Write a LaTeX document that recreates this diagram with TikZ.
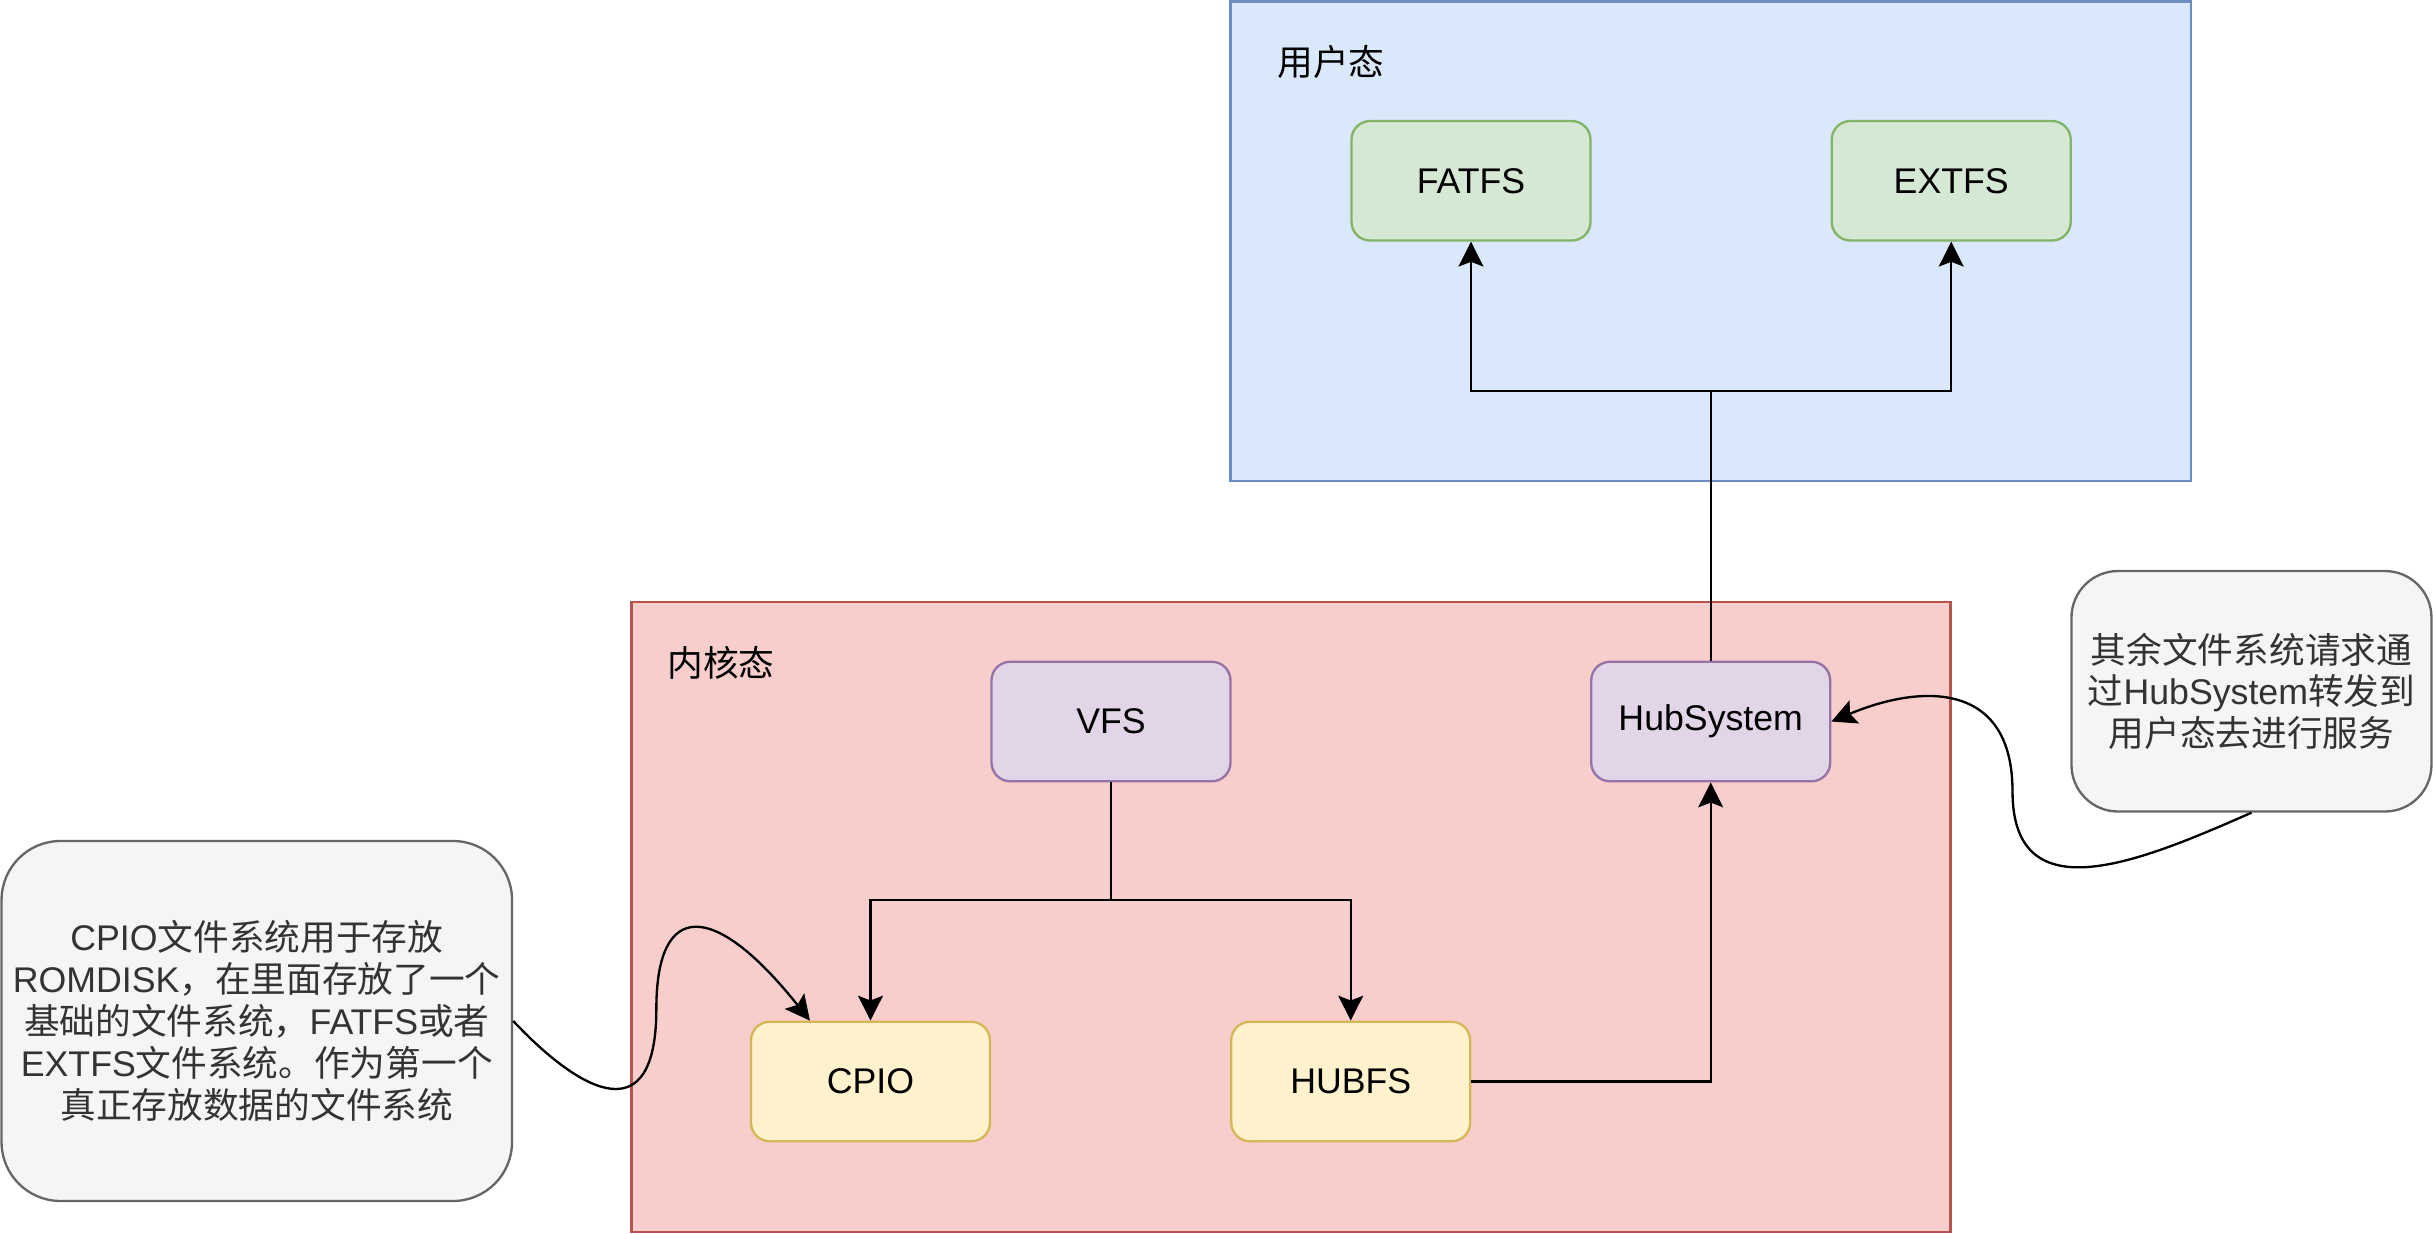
\documentclass[tikz,border=0pt]{standalone}
\usepackage{fontspec}
\setmainfont{Liberation Sans}
\newfontfamily\cjk{Noto Sans CJK SC}
\newcommand\zh[1]{{\cjk #1}}
\usetikzlibrary{arrows.meta}
\definecolor{bluefill}{HTML}{DAE8FC}
\definecolor{bluedraw}{HTML}{6C8EBF}
\definecolor{redfill}{HTML}{F8CECC}
\definecolor{reddraw}{HTML}{B85450}
\definecolor{greenfill}{HTML}{D5E8D4}
\definecolor{greendraw}{HTML}{82B366}
\definecolor{purplefill}{HTML}{E1D5E7}
\definecolor{purpledraw}{HTML}{9673A6}
\definecolor{yellowfill}{HTML}{FFF2CC}
\definecolor{yellowdraw}{HTML}{D6B656}
\definecolor{grayfill}{HTML}{F5F5F5}
\definecolor{graydraw}{HTML}{666666}
\definecolor{graytext}{HTML}{333333}
\begin{document}
\begin{tikzpicture}[x=1pt,y=-1pt,
  every node/.style={font=\fontsize{23}{27}\selectfont, inner sep=0pt},
  region/.style={draw, line width=1.5pt, rectangle},
  fsbox/.style={draw, line width=1.5pt, rounded corners=12pt, minimum width=154pt, minimum height=77pt, align=center},
  greenbox/.style={fsbox, fill=greenfill, draw=greendraw},
  purplebox/.style={fsbox, fill=purplefill, draw=purpledraw},
  yellowbox/.style={fsbox, fill=yellowfill, draw=yellowdraw},
  notebox/.style={draw=graydraw, fill=grayfill, text=graytext, line width=1.5pt, align=center},
  arr/.style={draw, line width=1.5pt, -{Stealth[length=16pt, width=16pt, inset=3pt]}},
  plain/.style={draw, line width=1.5pt}
]
\useasboundingbox (0,0) rectangle (1568,795);

% containers
\node[region, fill=bluefill, draw=bluedraw, minimum width=619pt, minimum height=309pt] (user) at (1102.5,155.5) {};
\node[region, fill=redfill, draw=reddraw, minimum width=850pt, minimum height=406pt] (kernel) at (832,591) {};
\node[anchor=west] (userlbl) at (823,40) {\zh{用户态}};
\node[anchor=west] (kernlbl) at (430,427) {\zh{内核态}};

% boxes
\node[greenbox] (fat) at (948,116.5) {FATFS};
\node[greenbox] (ext) at (1257.5,116.5) {EXTFS};
\node[purplebox] (vfs) at (716,465) {VFS};
\node[purplebox] (hub) at (1102.5,465) {HubSystem};
\node[yellowbox] (cpio) at (561,697) {CPIO};
\node[yellowbox] (hubfs) at (870.5,697) {HUBFS};

% notes
\node[notebox, rounded corners=38pt, minimum width=329pt, minimum height=232pt] (noteL) at (165.5,658)
  {CPIO\zh{文件系统用于存放}\\ROMDISK\zh{，在里面存放了一个}\\\zh{基础的文件系统，}FATFS\zh{或者}\\EXTFS\zh{文件系统。作为第一个}\\\zh{真正存放数据的文件系统}};
\node[notebox, rounded corners=30pt, minimum width=232pt, minimum height=155pt] (noteR) at (1451,445.5)
  {\zh{其余文件系统请求通}\\\zh{过}HubSystem\zh{转发到}\\\zh{用户态去进行服务}};

% connectors
\coordinate (j1) at (1102.5,252);
\coordinate (j2) at (716,580);
\draw[plain] (hub.north) -- (j1);
\draw[arr] (j1) -| (fat.south);
\draw[arr] (j1) -| (ext.south);
\draw[plain] (vfs.south) -- (j2);
\draw[arr] (j2) -| (cpio.north);
\draw[arr] (j2) -| (hubfs.north);
\draw[arr] (hubfs.east) -| (hub.south);

\draw[arr] (noteL.east) .. controls (375,705) and (423,730) .. (423,650)
  .. controls (423,580) and (460,580) .. ([xshift=-39pt]cpio.north);
\draw[arr] (noteR.south) .. controls (1380,555) and (1297,590) .. (1297,510)
  .. controls (1297,440) and (1240,440) .. (hub.east);
\end{tikzpicture}
\end{document}
